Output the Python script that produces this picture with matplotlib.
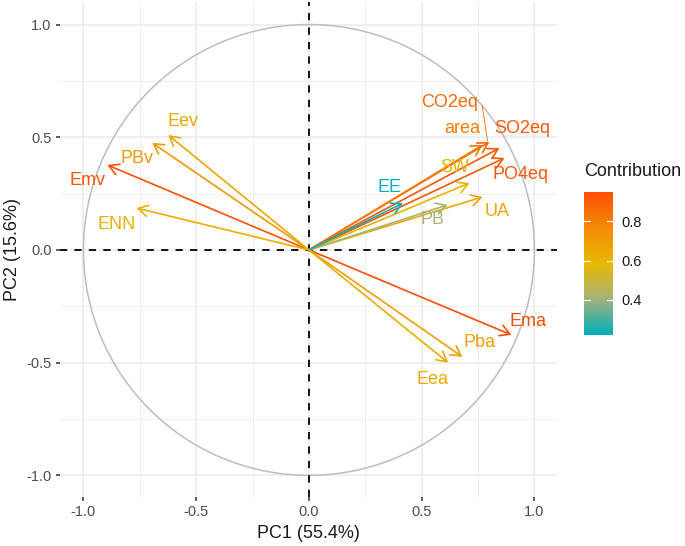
import matplotlib
matplotlib.use("Agg")
import matplotlib.pyplot as plt
import matplotlib.colors as mcolors
import matplotlib.cm as cm
import numpy as np

plt.rcParams['font.family'] = ['Liberation Sans', 'DejaVu Sans']

# variable loadings on PC1 / PC2 and their contribution (cos2)
variables = ['Emv', 'PBv', 'Eev', 'ENN', 'CO2eq', 'area', 'SO2eq', 'PO4eq',
             'SW', 'UA', 'PB', 'EE', 'Ema', 'Pba', 'Eea']
pc1 = [-0.894, -0.695, -0.624, -0.765, 0.800, 0.770, 0.845, 0.867,
       0.712, 0.770, 0.615, 0.417, 0.898, 0.680, 0.617]
pc2 = [0.377, 0.475, 0.510, 0.186, 0.479, 0.466, 0.452, 0.408,
       0.297, 0.235, 0.200, 0.208, -0.377, -0.474, -0.500]
contribution = [0.94, 0.71, 0.65, 0.62, 0.87, 0.81, 0.92, 0.92,
                0.60, 0.65, 0.42, 0.22, 0.95, 0.69, 0.63]

axis_labels = ['PC1 (55.4%)', 'PC2 (15.6%)']
ticks = [-1.0, -0.5, 0.0, 0.5, 1.0]
cbar_ticks = [0.4, 0.6, 0.8]

# repelled label positions (data units)
label_pos = {
    'Emv': (-0.98, 0.31), 'PBv': (-0.763, 0.404), 'Eev': (-0.559, 0.568),
    'ENN': (-0.851, 0.111), 'CO2eq': (0.625, 0.652), 'area': (0.678, 0.541),
    'SO2eq': (0.945, 0.541), 'PO4eq': (0.936, 0.333), 'SW': (0.647, 0.364),
    'UA': (0.834, 0.169), 'PB': (0.55, 0.133), 'EE': (0.355, 0.275),
    'Ema': (0.971, -0.319), 'Pba': (0.758, -0.412), 'Eea': (0.55, -0.576),
}

# ggplot-like gradient (interpolated in Lab, so the low half goes through olive-grey)
cmap = mcolors.LinearSegmentedColormap.from_list(
    'contrib', [(0.0, '#00AFBB'), (0.25, '#A3B27C'), (0.5, '#E7B800'),
                (0.75, '#F68A05'), (1.0, '#FC4E07')])
norm = mcolors.Normalize(vmin=min(contribution), vmax=max(contribution))

fig = plt.figure(figsize=(6.85, 5.46), dpi=100)
ax = fig.add_axes([60 / 685, 1 - 497 / 546, 497 / 685, 495 / 546])

# grid
for v in [-0.75, -0.25, 0.25, 0.75]:
    ax.axvline(v, color='#EBEBEB', lw=0.6, zorder=0)
    ax.axhline(v, color='#EBEBEB', lw=0.6, zorder=0)
for v in ticks:
    ax.axvline(v, color='#EBEBEB', lw=1.1, zorder=0)
    ax.axhline(v, color='#EBEBEB', lw=1.1, zorder=0)

# correlation circle
t = np.linspace(0, 2 * np.pi, 400)
ax.plot(np.cos(t), np.sin(t), color='#BDBDBD', lw=1.1, zorder=1)

ax.axhline(0, color='black', lw=1.3, ls=(0, (4, 4)), zorder=2)
ax.axvline(0, color='black', lw=1.3, ls=(0, (4, 4)), zorder=2)

for name, x, y, c in zip(variables, pc1, pc2, contribution):
    col = cmap(norm(c))
    ax.annotate('', xy=(x, y), xytext=(0, 0),
                arrowprops=dict(arrowstyle='->,head_length=0.35,head_width=0.2',
                                color=col, lw=1.2, shrinkA=0, shrinkB=0,
                                mutation_scale=20), zorder=3)
    lx, ly = label_pos[name]
    ax.text(lx, ly, name, color=col, fontsize=13, ha='center', va='center', zorder=4)
    if name == 'CO2eq':
        ax.plot([0.768, x - 0.008], [0.64, y + 0.005], color=col, lw=0.6, zorder=3)

ax.set_xlim(-1.104, 1.10)
ax.set_ylim(-1.096, 1.10)
ax.set_xticks(ticks)
ax.set_yticks(ticks)
ax.set_xticklabels(['-1.0', '-0.5', '0.0', '0.5', '1.0'])
ax.set_yticklabels(['-1.0', '-0.5', '0.0', '0.5', '1.0'])
ax.tick_params(length=3, width=1.1, color='#333333', labelcolor='#4D4D4D',
               labelsize=10.5, pad=3)
for s in ax.spines.values():
    s.set_visible(False)
ax.set_xlabel(axis_labels[0], fontsize=13, color='#1A1A1A', labelpad=4)
ax.set_ylabel(axis_labels[1], fontsize=13, color='#1A1A1A', labelpad=4)

# colour bar legend
cax = fig.add_axes([584 / 685, 1 - 335 / 546, 29 / 685, 143 / 546])
cb = fig.colorbar(cm.ScalarMappable(norm=norm, cmap=cmap), cax=cax, ticks=cbar_ticks)
cb.outline.set_visible(False)
cb.ax.tick_params(length=0, labelsize=10.5, labelcolor='#1A1A1A', pad=6)
cb.ax.set_yticklabels(['0.4', '0.6', '0.8'])
for v in cbar_ticks:
    cax.plot([0, 0.2], [v, v], color='white', lw=0.8, transform=cax.get_yaxis_transform())
    cax.plot([0.8, 1], [v, v], color='white', lw=0.8, transform=cax.get_yaxis_transform())
fig.text(584 / 685, 1 - 172 / 546, 'Contribution', fontsize=13, color='#1A1A1A',
         ha='left', va='center')

fig.savefig('out.png', dpi=100)
